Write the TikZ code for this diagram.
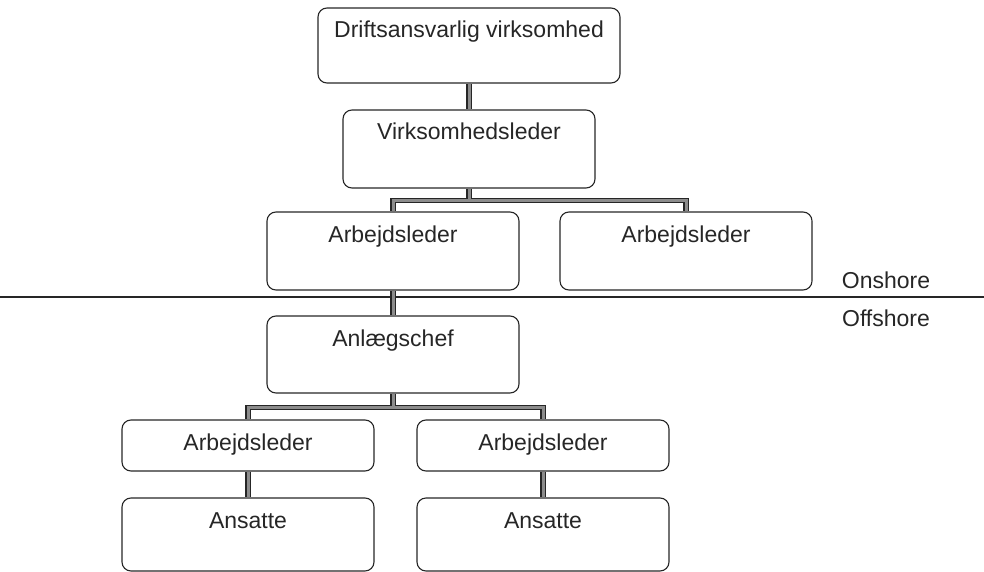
\documentclass[tikz,border=0pt]{standalone}
\usepackage{fontspec}
\setmainfont{Liberation Sans}
\usepackage{tikz}

\begin{document}
\begin{tikzpicture}[x=1pt, y=-1pt, font=\fontsize{23pt}{27pt}\selectfont,
  box/.style={draw=black!85, line width=1.1pt, rounded corners=9pt, text=black!85,
    minimum width=252pt, inner sep=0pt, text height=30pt, text depth=#1},
  box/.default=48pt,
  conn/.style={draw=black!85, line width=1.1pt, double=black!45, double distance=3pt}]
\useasboundingbox (0,0) rectangle (984,572);
\node[box=45pt, minimum width=302pt] (1) at (469,45.5) {Driftsansvarlig virksomhed};
\node[box, node distance=103.5pt, below of = 1] (2) {Virksomhedsleder};
\node[box, node distance=102pt, below of = 2, xshift=-76pt] (3) {Arbejdsleder};
\node[box, node distance=293pt, right of = 3] (4) {Arbejdsleder};
\node[box=47pt, node distance=103.5pt, below of = 3] (5) {Anlægschef};
\node[box=21pt, node distance=91pt, below of = 5, xshift=-145pt] (6) {Arbejdsleder};
\node[box=21pt, node distance=295pt, right of = 6] (7) {Arbejdsleder};
\node[box=43pt, node distance=89pt, below of = 6] (8) {Ansatte};
\node[box=43pt, node distance=89pt, below of = 7] (9) {Ansatte};
\node[text=black!85] (on) at (886,280) {Onshore};
\node[text=black!85] (off) at (886,318) {Offshore};
\draw[black!85, line width=1.2pt] (0,297) -- (984,297);
\draw[conn] (1) -- (2);
\draw[conn] (2.south) -- ++(0,12) coordinate (j1) -| (3.north) (j1) -| (4.north);
\draw[conn] (3) -- (5);
\draw[conn] (5.south) -- ++(0,14) coordinate (j2) -| (6.north) (j2) -| (7.north);
\draw[conn] (6) -- (8);
\draw[conn] (7) -- (9);
\end{tikzpicture}
\end{document}
